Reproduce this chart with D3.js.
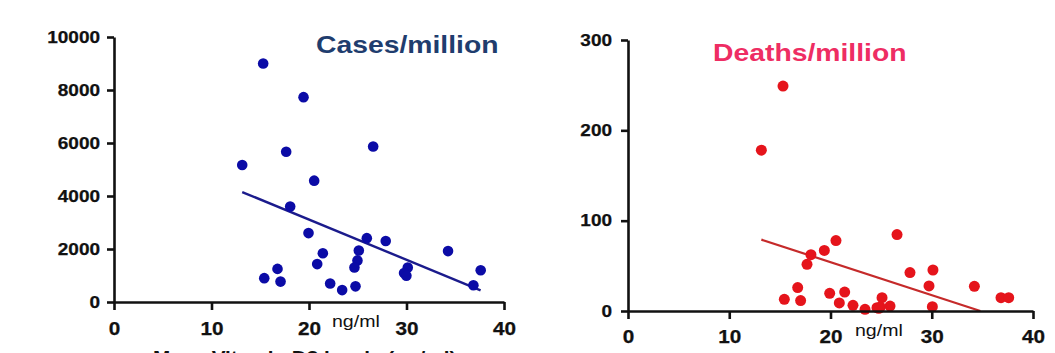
<!DOCTYPE html>
<html>
<head>
<meta charset="utf-8">
<script src="https://cdn.jsdelivr.net/npm/d3@7"></script>
<style>
  html, body { margin: 0; padding: 0; background: #fff; }
  svg { display: block; }
  text { font-family: "Liberation Sans", Arial, sans-serif; }
</style>
</head>
<body>
<svg id="chart" width="1055" height="353"></svg>
<script>
// ---- data ----
const vitD = [15.30, 19.44, 13.15, 17.66, 26.58, 20.53, 18.07, 19.95, 25.93, 27.87, 34.26, 25.11, 21.42, 20.84, 24.97, 24.66, 30.13, 29.75, 29.99, 37.61, 36.86, 16.77, 15.41, 17.08, 22.17, 23.40, 24.77];
const cases = [9000, 7730, 5170, 5670, 5870, 4580, 3600, 2600, 2410, 2300, 1920, 1945, 1840, 1430, 1570, 1300, 1300, 1090, 990, 1200, 630, 1250, 900, 770, 700, 450, 590];

const vitD2 = [15.31, 13.17, 26.57, 20.54, 19.39, 18.07, 17.68, 30.12, 27.85, 29.73, 34.21, 16.76, 19.92, 21.40, 36.84, 37.60, 15.44, 17.05, 25.09, 20.87, 22.22, 23.41, 24.59, 24.92, 25.88, 30.06, 24.77];
const deaths = [249, 178, 84.6, 78, 67, 62.4, 51.7, 45.4, 42.5, 27.7, 27.3, 25.9, 19.6, 21, 14.8, 14.8, 12.9, 11.5, 14.8, 8.9, 6.3, 1.8, 3.7, 4.4, 5.5, 4.8, 3];

const casesFitX = [13.15, 37.6];
const casesFitY = [4150, 440];
const deathsFitX = [13.17, 34.8];
const deathsFitY = [79, 0];

const xTicks = [0, 10, 20, 30, 40];
const casesTicks = [0, 2000, 4000, 6000, 8000, 10000];
const deathsTicks = [0, 100, 200, 300];

const titles = ["Cases/million", "Deaths/million"];
const unitLabel = "ng/ml";
const xAxisTitle = "Mean Vitamin D3 levels (ng/ml)";

// ---- drawing ----
const svg = d3.select("#chart");
const STRETCH = 1.15;

function stretch(sel, f) {
  sel.each(function () {
    const w = this.getComputedTextLength();
    d3.select(this).attr("textLength", w * (f || STRETCH)).attr("lengthAdjust", "spacingAndGlyphs");
  });
}

function panel(cfg) {
  const x = d3.scaleLinear().domain([0, 40]).range(cfg.xr);
  const y = d3.scaleLinear().domain(cfg.yd).range(cfg.yr);
  const g = svg.append("g");

  // regression line
  g.append("line")
    .attr("x1", x(cfg.fitX[0])).attr("y1", y(cfg.fitY[0]))
    .attr("x2", x(cfg.fitX[1])).attr("y2", y(cfg.fitY[1]))
    .attr("stroke", cfg.lineColor).attr("stroke-width", cfg.lineWidth);

  // points
  g.selectAll("circle.pt").data(cfg.xs.map((v, i) => [v, cfg.ys[i]]))
    .join("circle").attr("class", "pt")
    .attr("cx", d => x(d[0])).attr("cy", d => y(d[1]))
    .attr("r", cfg.r).attr("fill", cfg.dotColor);

  // axes
  const ya = g.append("g").attr("transform", `translate(${cfg.xr[0]},0)`)
    .call(d3.axisLeft(y).tickValues(cfg.yTicks).tickSize(7).tickSizeOuter(0).tickPadding(cfg.yPad).tickFormat(d3.format("d")));
  const xa = g.append("g").attr("transform", `translate(0,${cfg.yr[0]})`)
    .call(d3.axisBottom(x).tickValues(xTicks).tickSize(8).tickSizeOuter(0).tickPadding(cfg.xPad));

  [ya, xa].forEach(a => {
    a.select(".domain").attr("stroke", "#111").attr("stroke-width", 2.6);
    a.selectAll(".tick line").attr("stroke", "#111").attr("stroke-width", 2.6);
    a.selectAll(".tick text").attr("fill", "#111").attr("font-weight", "bold")
      .attr("font-family", "Liberation Sans, Arial, sans-serif")
      .attr("stroke", "#111").attr("stroke-width", 0.25);
  });
  ya.selectAll(".tick text").attr("font-size", 16.5);
  xa.selectAll(".tick text").attr("font-size", 18);
  stretch(ya.selectAll(".tick text"));
  stretch(xa.selectAll(".tick text"));

  // title
  const t = g.append("text").attr("x", cfg.titleX).attr("y", cfg.titleY)
    .attr("font-size", 24).attr("font-weight", "bold").attr("fill", cfg.titleColor)
    .text(cfg.title);
  stretch(t, 1.18);

  // unit
  const u = g.append("text").attr("x", cfg.unitX).attr("y", cfg.unitY)
    .attr("font-size", 17).attr("fill", "#111").text(unitLabel);
  stretch(u);
}

panel({
  xr: [114, 504], yd: [0, 10000], yr: [302, 37],
  xs: vitD, ys: cases, fitX: casesFitX, fitY: casesFitY,
  yTicks: casesTicks, yPad: 7, xPad: 12,
  dotColor: "#0b0ba6", r: 5.3, lineColor: "#1b1b8c", lineWidth: 2.4,
  title: titles[0], titleX: 316, titleY: 53, titleColor: "#1f3d6e",
  unitX: 332, unitY: 327
});

panel({
  xr: [628, 1033], yd: [0, 300], yr: [311, 40],
  xs: vitD2, ys: deaths, fitX: deathsFitX, fitY: deathsFitY,
  yTicks: deathsTicks, yPad: 9, xPad: 11,
  dotColor: "#e5141b", r: 5.5, lineColor: "#c52a2a", lineWidth: 2.2,
  title: titles[1], titleX: 713, titleY: 61, titleColor: "#ee2d63",
  unitX: 855, unitY: 336
});

// cut-off x-axis title at bottom of left panel (as in the reference)
const bt = svg.append("text").attr("x", 153).attr("y", 364)
  .attr("font-size", 18).attr("font-weight", "bold").attr("fill", "#111")
  .text(xAxisTitle);
stretch(bt);
</script>
</body>
</html>
